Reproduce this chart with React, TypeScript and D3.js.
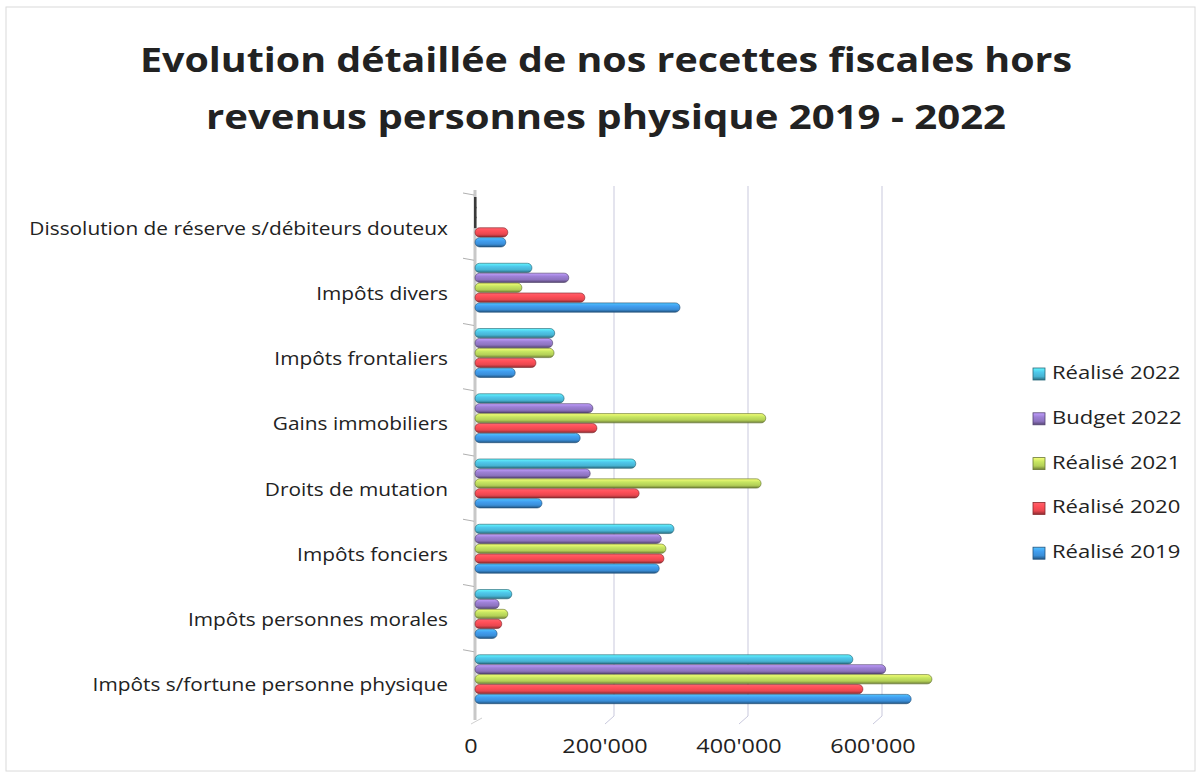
import React, { useEffect } from 'react';
import * as d3 from 'd3';

// categories, bottom to top as in the chart
const categories = [
  'Dissolution de réserve s/débiteurs douteux',
  'Impôts divers',
  'Impôts frontaliers',
  'Gains immobiliers',
  'Droits de mutation',
  'Impôts fonciers',
  'Impôts personnes morales',
  'Impôts s/fortune personne physique',
];

const seriesNames = ['Réalisé 2022', 'Budget 2022', 'Réalisé 2021', 'Réalisé 2020', 'Réalisé 2019'];
const seriesColors = ['#47b4d3', '#8d73bf', '#b3cf57', '#e8474f', '#3a8ed8'];

const realise2022 = [0, 82000, 116000, 130000, 237000, 294000, 52000, 561000];
const budget2022 = [0, 137000, 113000, 173000, 169000, 275000, 33000, 610000];
const realise2021 = [0, 67000, 115000, 431000, 424000, 282000, 46000, 679000];
const realise2020 = [46000, 161000, 88000, 179000, 242000, 279000, 37000, 576000];
const realise2019 = [43000, 303000, 57000, 154000, 97000, 272000, 30000, 648000];

const seriesValues = [realise2022, budget2022, realise2021, realise2020, realise2019];
const xTicks = [0, 200000, 400000, 600000];
const titleLines = ['Evolution détaillée de nos recettes fiscales hors', 'revenus personnes physique 2019 - 2022'];

const W = 1203;
const H = 783;
const plot = { left: 477, right: 879, top: 198, bottom: 720 };
const font = '"Open Sans", "Liberation Sans", sans-serif';

const fmt = (v: number) => d3.format(',')(v).replace(/,/g, "'");

const App = () => {
  useEffect(() => {
    document.body.style.margin = '0';
  }, []);

  const x = d3.scaleLinear().domain([0, 600000]).range([plot.left, plot.right]);
  const y = d3.scaleBand().domain(categories).range([plot.top, plot.bottom]).paddingInner(0.25).paddingOuter(0.125).align(0);
  const step = y.step();
  const inner = d3.scaleBand().domain(seriesNames).range([0, y.bandwidth()]).paddingInner(0.06);
  const bh = inner.bandwidth();

  return (
    <svg width={W} height={H} style={{ display: 'block', background: '#fff' }}>
      <defs>
        {seriesColors.map((c, i) => {
          const base = d3.color(c)!;
          return (
            <linearGradient key={i} id={`g${i}`} x1="0" y1="0" x2="0" y2="1">
              <stop offset="0" stopColor={base.brighter(0.9).formatHex()} />
              <stop offset="0.35" stopColor={base.brighter(0.3).formatHex()} />
              <stop offset="0.7" stopColor={c} />
              <stop offset="1" stopColor={base.darker(1.4).formatHex()} />
            </linearGradient>
          );
        })}
      </defs>

      <rect x={6} y={7} width={1189} height={764} fill="none" stroke="#dadada" strokeWidth={1} />

      {titleLines.map((t, i) => (
        <text key={i} x={606} y={72 + i * 57} textAnchor="middle" fontFamily={font} fontWeight="bold"
              fontSize={34} fill="#222" textLength={i === 0 ? 932 : 800} lengthAdjust="spacingAndGlyphs">{t}</text>
      ))}

      {/* gridlines */}
      <g>
        {xTicks.filter(t => t > 0).map(t => (
          <g key={t}>
            <line x1={x(t) + 3} x2={x(t) + 3} y1={186} y2={plot.bottom - 4} stroke="#c9c9dd" strokeWidth={1} />
            <line x1={x(t) + 3} x2={x(t) - 6} y1={plot.bottom - 4} y2={plot.bottom + 4} stroke="#c9c9dd" strokeWidth={1} />
          </g>
        ))}
      </g>

      {/* 3D wall edge on the value axis */}
      <line x1={plot.left - 2} x2={plot.left - 2} y1={190} y2={plot.bottom} stroke="#c8c8c8" strokeWidth={3} />
      <line x1={plot.left - 6} x2={plot.left + 5} y1={plot.bottom + 4} y2={plot.bottom - 2} stroke="#d0d0d0" strokeWidth={1} />
      {categories.map((c, i) => (
        <line key={c} x1={plot.left - 14} x2={plot.left - 3} y1={plot.top + i * step - 5} y2={plot.top + i * step - 3}
              stroke="#b0b0b0" strokeWidth={1} />
      ))}

      {/* bars */}
      {categories.map((c, ci) => (
        <g key={c} transform={`translate(0,${y(c)})`}>
          {seriesNames.map((s, si) => {
            const v = seriesValues[si][ci];
            if (v === 0) {
              return <rect key={s} x={x(0) - 3} y={inner(s)! - 1} width={2.5} height={bh + 2} fill="#3a3a3a" />;
            }
            const w = x(v) - x(0);
            return (
              <rect key={s} x={x(0) - 2} y={inner(s)} width={w + 2} height={bh} rx={bh / 2}
                    fill={`url(#g${si})`} stroke={d3.color(seriesColors[si])!.darker(1.8).formatHex()}
                    strokeWidth={0.6} />
            );
          })}
          <text transform={`translate(448,${y.bandwidth() / 2 + 7}) scale(1.097,1)`} textAnchor="end"
                dominantBaseline="middle" fontFamily={font} fontSize={19} fill="#222">{c}</text>
        </g>
      ))}

      {/* value axis labels */}
      {xTicks.map(t => (
        <text key={t} transform={`translate(${x(t) - 6},753) scale(1.17,1)`} textAnchor="middle" fontFamily={font}
              fontSize={20} fill="#222">{fmt(t)}</text>
      ))}

      {/* legend */}
      {seriesNames.map((s, i) => (
        <g key={s} transform={`translate(1033,${374 + i * 44.8})`}>
          <rect x={0} y={-6} width={12} height={12} fill={`url(#g${i})`} stroke={d3.color(seriesColors[i])!.darker(1.5).formatHex()} strokeWidth={0.8} />
          <text transform="translate(19,0) scale(1.16,1)" dominantBaseline="middle" fontFamily={font} fontSize={19}
                fill="#222">{s}</text>
        </g>
      ))}
    </svg>
  );
};

export default App;
